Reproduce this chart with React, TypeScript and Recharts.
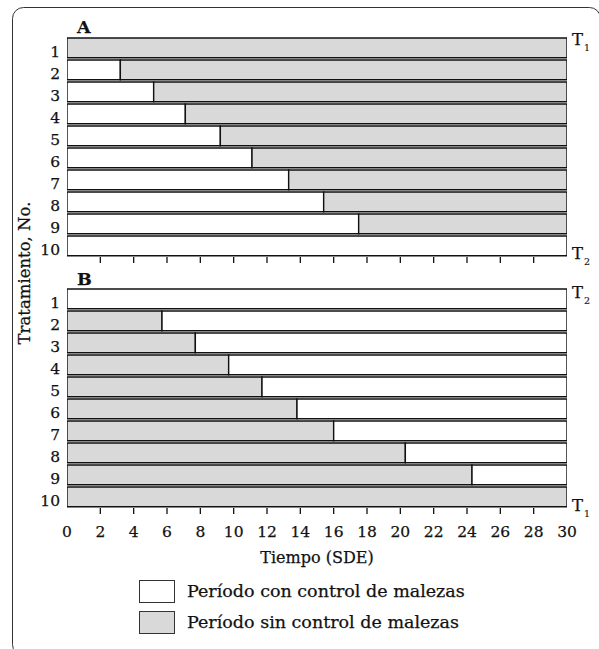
import React from 'react';
import { Bar, BarChart, XAxis, YAxis } from 'recharts';

const FONT = '"DejaVu Serif", serif';
const INK = '#111';
const GRAY = '#d9d9d9';

// row labels (treatment number), same for both panels
const treatments = ['1', '2', '3', '4', '5', '6', '7', '8', '9', '10'];
// A: weeks kept weed-free before weeds are allowed (T1 -> T2)
const controlEndA = [0, 3.2, 5.2, 7.1, 9.2, 11.1, 13.3, 15.4, 17.5, 30];
// B: weeks weedy before control starts (T2 -> T1)
const weedyEndB = [0, 5.7, 7.7, 9.7, 11.7, 13.8, 16.0, 20.3, 24.3, 30];
const seasonEnd = 30;
const timeTicks = [0, 2, 4, 6, 8, 10, 12, 14, 16, 18, 20, 22, 24, 26, 28, 30];

const W = 599;
const TEXT = { fontFamily: FONT, fill: INK, stroke: INK, strokeWidth: 0.25 };

function toRows(ends: number[]) {
  return treatments.map((row, i) => ({ row, first: ends[i], rest: seasonEnd - ends[i] }));
}

const TimeTick = ({ x, payload, axisY, showLabel }: any) => {
  const v = payload?.value;
  const edge = v === 0 || v === seasonEnd;
  return (
    <g>
      {!edge && <line x1={x} x2={x} y1={axisY} y2={axisY + 6} stroke={INK} strokeWidth={1.3} />}
      {showLabel && (
        <text x={x} y={axisY + 29} textAnchor="middle" fontSize={15.5} {...TEXT}>
          {v}
        </text>
      )}
    </g>
  );
};

const RowTick = ({ x, y, payload }: any) => (
  <text x={x} y={y + 9} textAnchor="end" fontSize={15.5} {...TEXT}>
    {payload?.value}
  </text>
);

const Panel: React.FC<{
  ends: number[];
  firstFill: string;
  restFill: string;
  height: number;
  plotTop: number;
  plotBottom: number;
  showLabels: boolean;
}> = ({ ends, firstFill, restFill, height, plotTop, plotBottom, showLabels }) => (
  <BarChart
    width={W}
    height={height}
    data={toRows(ends)}
    layout="vertical"
    barCategoryGap={0}
    margin={{ top: plotTop, right: 32, left: 7, bottom: height - plotBottom - 30 }}
  >
    <XAxis
      type="number"
      domain={[0, seasonEnd]}
      ticks={timeTicks}
      interval={0}
      allowDataOverflow
      height={30}
      axisLine={false}
      tickLine={false}
      tick={(p: any) => <TimeTick {...p} axisY={plotBottom} showLabel={showLabels} />}
    />
    <YAxis
      type="category"
      dataKey="row"
      width={60}
      interval={0}
      axisLine={false}
      tickLine={false}
      tickSize={0}
      tickMargin={7}
      tick={(p: any) => <RowTick {...p} />}
    />
    <Bar dataKey="first" stackId="t" fill={firstFill} stroke={INK} strokeWidth={1.4} barSize={22} isAnimationActive={false} />
    <Bar dataKey="rest" stackId="t" fill={restFill} stroke={INK} strokeWidth={1.4} barSize={22} isAnimationActive={false} />
  </BarChart>
);

const Tsub: React.FC<{ x: number; y: number; sub: string }> = ({ x, y, sub }) => (
  <g>
    <text x={x} y={y} fontSize={16.5} {...TEXT}>T</text>
    <text x={x + 12} y={y + 6} fontSize={9.5} {...TEXT} strokeWidth={0.15}>{sub}</text>
  </g>
);

export default function App() {
  return (
    <div style={{ position: 'absolute', left: 0, top: 0, width: W, height: 649, overflow: 'hidden', background: '#fff' }}>
      <div style={{ position: 'absolute', left: 0, top: 0 }}>
        <Panel ends={controlEndA} firstFill="#fff" restFill={GRAY} height={300} plotTop={37} plotBottom={257} showLabels={false} />
      </div>
      <div style={{ position: 'absolute', left: 0, top: 0 }}>
        <Panel ends={weedyEndB} firstFill={GRAY} restFill="#fff" height={570} plotTop={288} plotBottom={508} showLabels />
      </div>
      <svg width={W} height={649} style={{ position: 'absolute', left: 0, top: 0, pointerEvents: 'none' }}>
        <rect x={12.5} y={7.5} width={588} height={648} rx={11} fill="none" stroke="#333" strokeWidth={1} />
        <text x={77} y={33} fontSize={17.5} fontWeight="bold" {...TEXT}>A</text>
        <text x={77} y={285} fontSize={17.5} fontWeight="bold" {...TEXT}>B</text>
        <Tsub x={572} y={45} sub="1" />
        <Tsub x={572} y={259} sub="2" />
        <Tsub x={572} y={298} sub="2" />
        <Tsub x={572} y={511} sub="1" />
        <text transform="translate(30,273) rotate(-90)" textAnchor="middle" fontSize={16.5} {...TEXT}>
          Tratamiento, No.
        </text>
        <text x={317} y={563} textAnchor="middle" fontSize={16} {...TEXT}>
          Tiempo (SDE)
        </text>
        <rect x={139.5} y={580.5} width={35} height={22} fill="#fff" stroke="#333" strokeWidth={1} />
        <rect x={139.5} y={611.5} width={35} height={22} fill={GRAY} stroke="#333" strokeWidth={1} />
        <text x={187} y={597} fontSize={17.5} {...TEXT}>Período con control de malezas</text>
        <text x={187} y={628} fontSize={17.5} {...TEXT}>Período sin control de malezas</text>
      </svg>
    </div>
  );
}
